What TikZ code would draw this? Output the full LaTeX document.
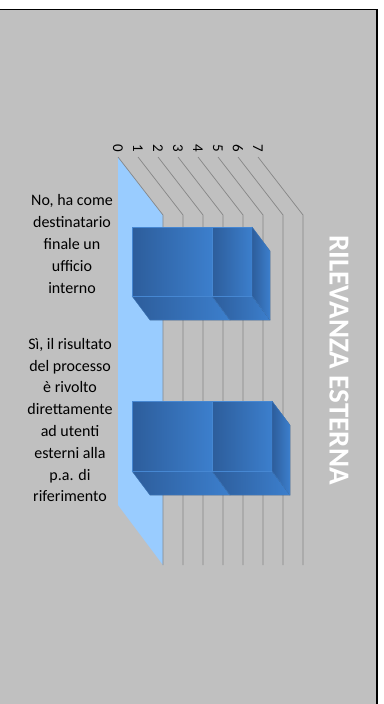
\documentclass[tikz,border=0pt]{standalone}
\usepackage{fontspec}
\setmainfont{Carlito}
\usetikzlibrary{positioning}

\definecolor{panel}{RGB}{192,192,192}
\definecolor{wall}{RGB}{153,204,255}
\definecolor{gridgray}{RGB}{134,134,134}
\definecolor{bardark}{RGB}{45,93,155}
\definecolor{barlight}{RGB}{60,127,205}
\definecolor{baredge}{RGB}{70,135,210}

\begin{document}
\begin{tikzpicture}[x=1pt,y=-1pt,
	gridline/.style={draw=gridgray,line width=0.7pt},
	barface/.style={left color=bardark,right color=barlight,draw=baredge,line width=0.3pt},
	catlabel/.style={align=center,font=\fontsize{16}{21.8}\selectfont,text=black},
	ticklabel/.style={rotate=-90,font=\fontsize{15}{15}\selectfont,inner sep=0pt}]
	\useasboundingbox (0,0) rectangle (383,704);
	\fill[white] (0,0) rectangle (383,704);
	\fill[panel] (0,9.5) rectangle (377,704);
	\draw[line width=1.2pt] (0,9.5) -- (377,9.5) -- (377,704);

	% back wall
	\fill[wall] (118,157) -- (163,215) -- (163,565) -- (118,505) -- cycle;

	% grid and ticks
	\foreach \v in {0,...,7}{
		\draw[gridline] (118+20*\v,157) -- (163+20*\v,215) -- (163+20*\v,565);
		\node[ticklabel] (tick\v) at (118+20*\v,148) {\v};
	}

	% bars
	\foreach \ya/\yb/\xend in {227/296/252, 401/471/272}{
		\foreach \xa/\xb in {132/212, 212/\xend}{
			\filldraw[barface] (\xa,\yb) -- (\xa+18,\yb+24) -- (\xb+18,\yb+24) -- (\xb,\yb) -- cycle;
			\filldraw[barface] (\xa,\ya) rectangle (\xb,\yb);
		}
		\filldraw[barface] (\xend,\ya) -- (\xend+18,\ya+24) -- (\xend+18,\yb+24) -- (\xend,\yb) -- cycle;
	}

	\node[catlabel] (no) at (72,244) {No, ha come\\destinatario\\finale un\\ufficio\\interno};
	\node[catlabel] (si) at (70,420) {Sì, il risultato\\del processo\\è rivolto\\direttamente\\ad utenti\\esterni alla\\p.a. di\\riferimento};

	\node[rotate=-90,text=white,font=\bfseries\fontsize{29}{29}\selectfont] (title) at (339,360) {RILEVANZA ESTERNA};
\end{tikzpicture}
\end{document}
